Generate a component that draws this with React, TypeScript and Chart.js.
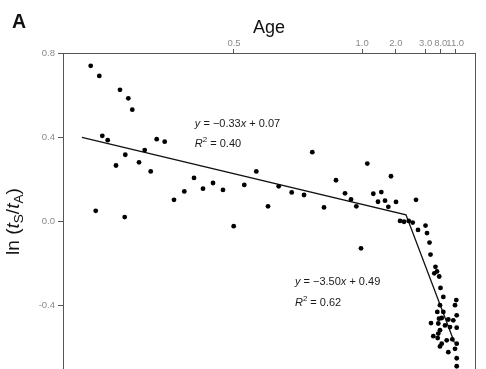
import React, { useEffect, useRef } from "react";
import { Chart, registerables } from "chart.js";

Chart.register(...registerables);

// Top "Age" axis: tick positions (on a 0–100 position scale) and their labels
const ageTickPositions = [41.5, 72.6, 80.8, 88.0, 91.7, 95.2];
const ageTickLabels = ["0.5", "1.0", "2.0", "3.0", "8.0", "11.0"];

// ln(tS/tA) ticks
const yTickValues = [0.8, 0.4, 0.0, -0.4];

// Scatter points (x on position scale, y = ln(tS/tA))
const pointX = [
  6.72, 8.81, 13.83, 15.85, 16.82, 9.54, 10.85, 15.12, 12.86, 18.45,
  19.83, 21.29, 22.74, 24.68, 26.94, 29.44, 31.8, 33.98, 36.41, 38.83,
  44.0, 46.92, 49.76, 52.35, 7.94, 14.98, 41.43, 60.51, 73.86, 66.26,
  79.61, 55.51, 58.5, 63.35, 68.45, 69.9, 71.19, 75.32, 77.26, 76.46,
  78.16, 78.96, 80.83, 85.68, 72.33, 81.8, 82.77, 83.91, 84.88, 86.17,
  87.99, 88.35, 88.96, 89.2, 90.41, 90.78, 90.12, 91.31, 91.63, 92.31,
  95.46, 95.15, 91.5, 90.85, 92.31, 91.26, 91.92, 93.52, 94.73, 89.32,
  91.09, 92.72, 93.93, 95.56, 91.5, 91.09, 89.88, 90.95, 93.13, 94.49,
  91.92, 95.56, 91.5, 95.15, 93.52, 95.56, 95.56, 95.56,
];
const pointY = [
  0.739, 0.691, 0.625, 0.585, 0.531, 0.407, 0.386, 0.317, 0.266, 0.281,
  0.339, 0.238, 0.391, 0.379, 0.103, 0.143, 0.207, 0.156, 0.183, 0.15,
  0.174, 0.238, 0.072, 0.167, 0.051, 0.021, -0.022, 0.329, 0.275, 0.196,
  0.215, 0.138, 0.126, 0.067, 0.134, 0.105, 0.072, 0.132, 0.14, 0.094,
  0.099, 0.07, 0.093, 0.103, -0.127, 0.003, -0.001, 0.003, -0.005, -0.04,
  -0.019, -0.055, -0.1, -0.157, -0.215, -0.237, -0.246, -0.261, -0.315, -0.358,
  -0.373, -0.397, -0.397, -0.429, -0.429, -0.461, -0.458, -0.465, -0.469, -0.482,
  -0.484, -0.493, -0.501, -0.504, -0.516, -0.532, -0.544, -0.553, -0.564, -0.559,
  -0.58, -0.58, -0.593, -0.604, -0.62, -0.649, -0.687, -0.445,
];

// Segmented regression line
const fitX = [4.6, 83.25, 95.0];
const fitY = [0.4, 0.032, -0.574];

// Equation labels
const eq1Text = { slope: "−0.33", intercept: "0.07", r2: "0.40" };
const eq2Text = { slope: "−3.50", intercept: "0.49", r2: "0.62" };
const eq1Anchor = { x: 32.0, y1: 0.469, y2: 0.374 };
const eq2Anchor = { x: 56.3, y1: -0.281, y2: -0.381 };

const FONT = '"Liberation Sans", Arial, Helvetica, sans-serif';

type Run = { t: string; it?: boolean; sub?: boolean; sup?: boolean; bold?: boolean };

function drawRuns(ctx: CanvasRenderingContext2D, runs: Run[], x: number, y: number, size: number, center: boolean) {
  const fontFor = (r: Run) => {
    const s = r.sub || r.sup ? size * 0.72 : size;
    return `${r.it ? "italic " : ""}${r.bold ? "bold " : ""}${s}px ${FONT}`;
  };
  let total = 0;
  const widths = runs.map((r) => {
    ctx.font = fontFor(r);
    const w = ctx.measureText(r.t).width;
    total += w;
    return w;
  });
  let cx = center ? x - total / 2 : x;
  ctx.textAlign = "left";
  ctx.textBaseline = "alphabetic";
  runs.forEach((r, i) => {
    ctx.font = fontFor(r);
    let dy = 0;
    if (r.sub) dy = size * 0.25;
    if (r.sup) dy = -size * 0.42;
    ctx.fillText(r.t, cx, y + dy);
    cx += widths[i];
  });
}

const decorPlugin = {
  id: "decor",
  afterDraw(chart: any) {
    const ctx: CanvasRenderingContext2D = chart.ctx;
    const area = chart.chartArea;
    const xs = chart.scales.x;
    const ys = chart.scales.y;
    ctx.save();
    // right frame line
    ctx.strokeStyle = "#555";
    ctx.lineWidth = 1;
    ctx.beginPath();
    ctx.moveTo(area.right + 0.5, area.top);
    ctx.lineTo(area.right + 0.5, area.bottom);
    ctx.stroke();

    ctx.fillStyle = "#111";
    // panel letter
    ctx.font = `bold 19.5px ${FONT}`;
    ctx.textAlign = "left";
    ctx.textBaseline = "alphabetic";
    ctx.fillText("A", 12, 28.3);
    // top axis title
    ctx.font = `18px ${FONT}`;
    ctx.textAlign = "center";
    ctx.fillText("Age", (area.left + area.right) / 2, 33.3);

    // y axis title
    ctx.save();
    ctx.translate(18.5, ys.getPixelForValue(0));
    ctx.rotate(-Math.PI / 2);
    drawRuns(
      ctx,
      [
        { t: "ln (" },
        { t: "t", it: true },
        { t: "S", sub: true },
        { t: "/" },
        { t: "t", it: true },
        { t: "A", sub: true },
        { t: ")" },
      ],
      0,
      0,
      19,
      true
    );
    ctx.restore();

    // equations
    ctx.fillStyle = "#1a1a1a";
    const eqs = [
      { a: eq1Anchor, e: eq1Text },
      { a: eq2Anchor, e: eq2Text },
    ];
    eqs.forEach(({ a, e }) => {
      const px = xs.getPixelForValue(a.x);
      const py1 = ys.getPixelForValue(a.y1) + 4;
      const py2 = ys.getPixelForValue(a.y2) + 4;
      drawRuns(
        ctx,
        [
          { t: "y", it: true },
          { t: " = " + e.slope },
          { t: "x", it: true },
          { t: " + " + e.intercept },
        ],
        px,
        py1,
        11,
        false
      );
      drawRuns(
        ctx,
        [{ t: "R", it: true }, { t: "2", sup: true }, { t: " = " + e.r2 }],
        px,
        py2,
        11,
        false
      );
    });
    ctx.restore();
  },
};

export default function App() {
  const ref = useRef<HTMLCanvasElement | null>(null);

  useEffect(() => {
    if (!ref.current) return;
    const points = pointX.map((x, i) => ({ x, y: pointY[i] }));
    const fit = fitX.map((x, i) => ({ x, y: fitY[i] }));
    const tickColor = "#555";
    const labelColor = "#8a8a8a";

    const chart = new Chart(ref.current, {
      type: "scatter",
      data: {
        datasets: [
          {
            type: "line",
            data: fit,
            borderColor: "#111",
            borderWidth: 1.3,
            pointRadius: 0,
            fill: false,
            tension: 0,
            order: 2,
          } as any,
          {
            type: "scatter",
            data: points,
            backgroundColor: "#000",
            borderWidth: 0,
            pointRadius: 2.4,
            order: 1,
          },
        ],
      },
      options: {
        animation: false,
        responsive: false,
        devicePixelRatio: 1,
        layout: { autoPadding: false, padding: { left: 0, right: 11, top: 0, bottom: 0 } },
        plugins: {
          legend: { display: false },
          tooltip: { enabled: false },
          title: { display: false },
        },
        scales: {
          x: {
            type: "linear",
            position: "top",
            min: 0,
            max: 100,
            afterBuildTicks: (axis: any) => {
              axis.ticks = ageTickPositions.map((v) => ({ value: v }));
            },
            afterFit: (axis: any) => {
              axis.height = 53;
              axis.paddingLeft = 0;
              axis.paddingRight = 0;
              axis.paddingTop = 0;
              axis.paddingBottom = 0;
            },
            ticks: {
              autoSkip: false,
              maxRotation: 0,
              minRotation: 0,
              padding: 0,
              color: labelColor,
              font: { family: FONT, size: 9.5 },
              callback: (_v: any, i: number) => ageTickLabels[i],
            },
            grid: {
              display: true,
              drawOnChartArea: false,
              drawTicks: true,
              tickLength: 4,
              color: tickColor,
              tickColor: tickColor,
            },
            border: { display: true, color: tickColor, width: 1 },
          },
          y: {
            type: "linear",
            min: -0.7,
            max: 0.8,
            afterBuildTicks: (axis: any) => {
              axis.ticks = yTickValues.map((v) => ({ value: v }));
            },
            afterFit: (axis: any) => {
              axis.width = 63;
              axis.paddingLeft = 0;
              axis.paddingRight = 0;
              axis.paddingTop = 0;
              axis.paddingBottom = 0;
            },
            ticks: {
              padding: 3,
              color: labelColor,
              font: { family: FONT, size: 9.5 },
              callback: (v: any) => Number(v).toFixed(1),
            },
            grid: {
              display: true,
              drawOnChartArea: false,
              drawTicks: true,
              tickLength: 5,
              color: tickColor,
              tickColor: tickColor,
            },
            border: { display: true, color: tickColor, width: 1 },
          },
        },
      },
      plugins: [decorPlugin],
    });
    return () => chart.destroy();
  }, []);

  return (
    <div style={{ position: "fixed", left: 0, top: 0, width: 486, height: 369, background: "#fff" }}>
      <canvas ref={ref} width={486} height={369} style={{ display: "block" }} />
    </div>
  );
}
